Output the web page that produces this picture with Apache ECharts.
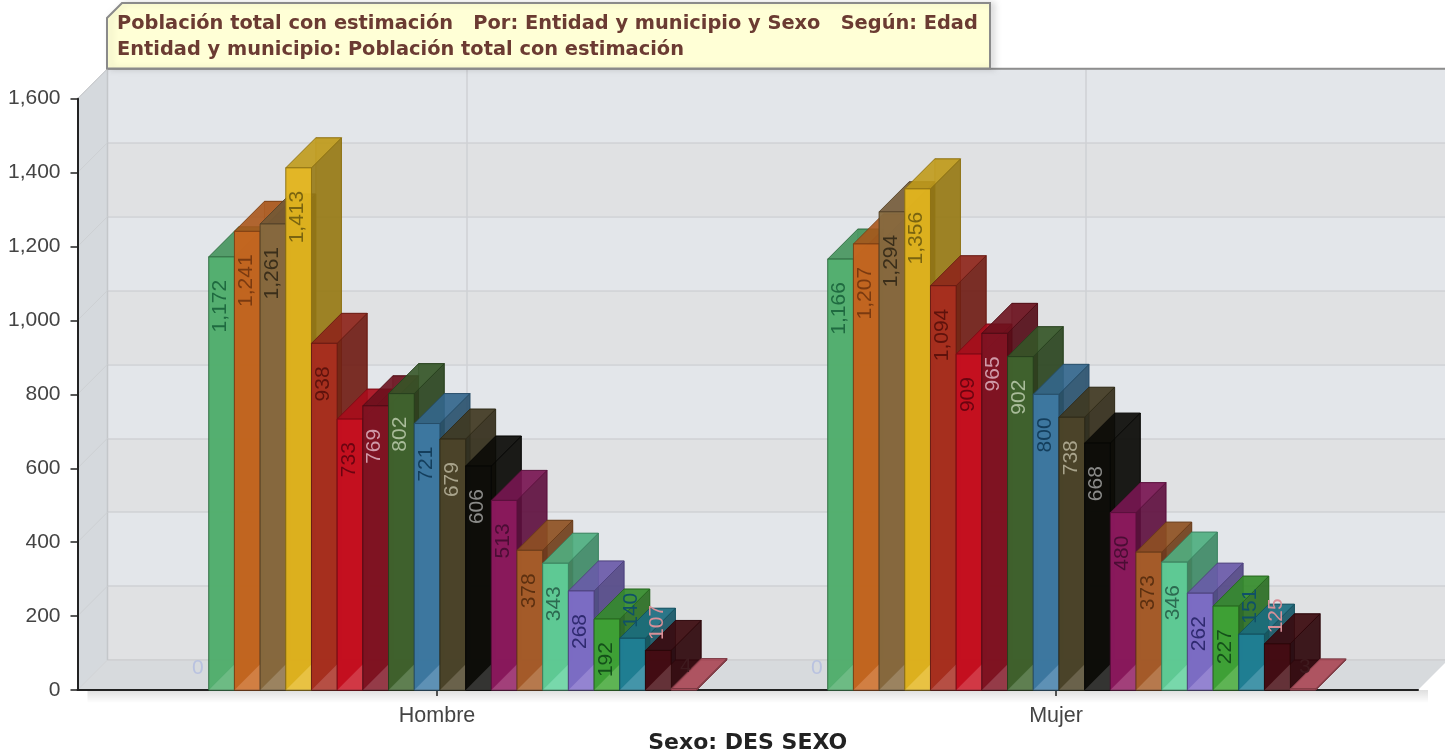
<!DOCTYPE html>
<html>
<head>
<meta charset="utf-8">
<style>
html,body{margin:0;padding:0;background:#fff;overflow:hidden}
#c{width:1445px;height:753px;filter:blur(0.55px)}
</style>
<script src="https://cdn.jsdelivr.net/npm/echarts@6/dist/echarts.min.js"></script>
</head>
<body>
<div id="c"></div>
<script>
const categories = ['Hombre', 'Mujer'];
const titleLines = [
  'Población total con estimación   Por: Entidad y municipio y Sexo   Según: Edad',
  'Entidad y municipio: Población total con estimación'
];
const xAxisTitle = 'Sexo: DES SEXO';
const yTicks = [0, 200, 400, 600, 800, 1000, 1200, 1400, 1600];
const hombre = [0, 1172, 1241, 1261, 1413, 938, 733, 769, 802, 721, 679, 606, 513, 378, 343, 268, 192, 140, 107, 4];
const mujer  = [0, 1166, 1207, 1294, 1356, 1094, 909, 965, 902, 800, 738, 668, 480, 373, 346, 262, 227, 151, 125, 3];
const barColors = ['#9aa6d8', '#4fae6b', '#c9651e', '#876a40', '#e3b61e', '#a82c1f', '#c90f20', '#7f1322', '#3f652e', '#3e7aa6',
  '#4c4326', '#0c0c08', '#8f1a60', '#a85f28', '#5ed09a', '#7e6bc9', '#3ea532', '#1f8098', '#45090f', '#c55a6a'];
const labelColors = ['#b9c2e0', '#1f6a40', '#7a3a10', '#3a2e1a', '#7a6410', '#5e120c', '#6a0410', '#d09aa8', '#a9bc9a', '#143e5c',
  '#a9a48c', '#8a8a88', '#4a0d34', '#5c3010', '#2c6a50', '#2f2a70', '#14501a', '#0f5068', '#d89098', '#3e1a1e'];

const DEPTH = 30;
const FRONT = {left: 77.5, top: 98.7, width: 1340.5, height: 591.3};
const X_MIN = -0.5808, X_MAX = 1.5848;
const GROUP_START = -0.4103, SLOT = 0.0415;
const FONT = '"Liberation Sans", Arial, sans-serif';

function shade(hex, f) {
  const n = parseInt(hex.slice(1), 16);
  const c = [(n >> 16) & 255, (n >> 8) & 255, n & 255].map(v => Math.round(f > 1 ? v + (255 - v) * (f - 1) : v * f));
  return 'rgb(' + c.join(',') + ')';
}
function poly(points, fill, opacity, stroke) {
  return {type: 'polygon', shape: {points}, style: {fill, opacity, stroke, lineWidth: 1}};
}
function barRenderer(i) {
  const col = barColors[i];
  return function (params, api) {
    const cat = api.value(0), v = api.value(1);
    const xl = cat + GROUP_START + i * SLOT;
    const [x0, y0] = api.coord([xl, 0]);
    const [x1, y1] = api.coord([xl + SLOT, v]);
    const d = DEPTH;
    const stroke = shade(col, 0.62);
    const children = [];
    if (v > 0) {
      children.push(poly([[x0, y0], [x1, y0], [x1 + d, y0 - d], [x0 + d, y0 - d]], shade(col, 1.05), 0.8, stroke));
      children.push(poly([[x0 + d, y0 - d], [x1 + d, y0 - d], [x1 + d, y1 - d], [x0 + d, y1 - d]], shade(col, 0.6), 0.45, stroke));
      children.push(poly([[x0, y0], [x0 + d, y0 - d], [x0 + d, y1 - d], [x0, y1]], shade(col, 0.5), 0.28, null));
      children.push(poly([[x1, y0], [x1 + d, y0 - d], [x1 + d, y1 - d], [x1, y1]], shade(col, 0.67), 0.85, stroke));
      children.push(poly([[x0, y1], [x1, y1], [x1 + d, y1 - d], [x0 + d, y1 - d]], shade(col, 0.86), 0.85, stroke));
      children.push(poly([[x0, y0], [x1, y0], [x1, y1], [x0, y1]], col, 0.94, stroke));
      const h = Math.min(x1 - x0, y0 - y1);
      if (h > 3) {
        children.push({type: 'polygon', shape: {points: [[x0, y0], [x1, y0], [x1, y0 - h]]},
          style: {fill: 'rgba(255,255,255,0.16)'}});
      }
    }
    const height = y0 - y1;
    const fits = height > 58;
    const single = v < 10;
    const text = v.toLocaleString('en-US');
    children.push({
      type: 'text',
      x: (x0 + x1) / 2 + (single ? 2 : -1),
      y: fits ? y1 + 23 : y1 - (single ? 22 : 28),
      rotation: single ? 0 : Math.PI / 2,
      style: {
        text,
        fill: labelColors[i],
        font: '21px ' + FONT,
        align: fits ? 'right' : 'center',
        verticalAlign: 'middle'
      },
      z2: 20
    });
    return {type: 'group', children};
  };
}

const wallSeries = {
  type: 'custom',
  coordinateSystem: 'cartesian2d',
  silent: true,
  clip: false,
  z: 1,
  data: yTicks.map(v => [X_MIN, v]),
  renderItem(params, api) {
    const [x, y] = api.coord([api.value(0), api.value(1)]);
    const d = DEPTH;
    const children = [];
    if (params.dataIndex === 0) {
      const [xEnd] = api.coord([X_MAX, 0]);
      const [, yTop] = api.coord([0, yTicks[yTicks.length - 1]]);
      children.push({type: 'rect', shape: {x: x + 10, y, width: xEnd - x, height: 13},
        style: {fill: {type: 'linear', x: 0, y: 0, x2: 0, y2: 1,
          colorStops: [{offset: 0, color: 'rgba(0,0,0,0.13)'}, {offset: 1, color: 'rgba(0,0,0,0)'}]}}});
      children.push(poly([[x, y], [x + d, y - d], [x + d, yTop - d], [x, yTop]], '#d5d9dd', 1, null));
      children.push(poly([[x, y], [xEnd, y], [xEnd + d, y - d], [x + d, y - d]], '#d7dadd', 1, null));
      children.push({type: 'line', shape: {x1: x + d, y1: y - d, x2: xEnd + d, y2: y - d}, style: {stroke: '#cfcfd2', lineWidth: 1.5}});
      children.push({type: 'line', shape: {x1: x + d, y1: y - d, x2: x + d, y2: yTop - d}, style: {stroke: '#c4c7ca', lineWidth: 1.5}});
      children.push({type: 'line', shape: {x1: x + d, y1: yTop - d, x2: xEnd + d, y2: yTop - d}, style: {stroke: '#8e8e8e', lineWidth: 2}});
      children.push({type: 'line', shape: {x1: x, y1: yTop, x2: x + d, y2: yTop - d}, style: {stroke: '#b8b8b8', lineWidth: 1}});
    }
    children.push({type: 'line', shape: {x1: x, y1: y, x2: x + d, y2: y - d}, style: {stroke: '#cdd0d3', lineWidth: 1}});
    return {type: 'group', children};
  }
};

const barSeries = hombre.map((h, i) => ({
  type: 'custom',
  coordinateSystem: 'cartesian2d',
  clip: false,
  silent: true,
  z: 4,
  data: [[0, h], [1, mujer[i]]],
  renderItem: barRenderer(i)
}));

const chart = echarts.init(document.getElementById('c'), null, {renderer: 'canvas'});
chart.setOption({
  animation: false,
  backgroundColor: '#ffffff',
  title: {
    text: titleLines.join('\n'),
    left: 112, top: 6,
    z: 8,
    textStyle: {fontFamily: '"DejaVu Sans", sans-serif', fontWeight: 'bold', fontSize: 19.4, lineHeight: 26, color: '#6b3b32'}
  },
  graphic: [{
    type: 'polygon', z: 6, silent: true,
    shape: {points: [[107, 18], [122, 3], [990, 3], [990, 68.5], [107, 68.5]]},
    style: {fill: '#ffffd6', stroke: '#8a8a8a', lineWidth: 2, shadowBlur: 6, shadowOffsetX: 4, shadowColor: 'rgba(0,0,0,0.12)'}
  }],
  grid: [
    {left: FRONT.left, top: FRONT.top, width: FRONT.width, height: FRONT.height, outerBoundsMode: 'none'},
    {left: FRONT.left + DEPTH, top: FRONT.top - DEPTH, width: FRONT.width, height: FRONT.height, outerBoundsMode: 'none'}
  ],
  xAxis: [{
    gridIndex: 0, type: 'value', min: X_MIN, max: X_MAX, z: 3,
    name: xAxisTitle, nameLocation: 'middle', nameGap: 37,
    nameTextStyle: {fontFamily: '"DejaVu Sans", sans-serif', fontWeight: 'bold', fontSize: 22, color: '#222'},
    axisLine: {show: true, onZero: false, lineStyle: {color: '#222', width: 2}},
    axisTick: {show: true, length: 6, customValues: [0, 1], lineStyle: {color: '#222', width: 1.5}},
    axisLabel: {show: true, customValues: [0, 1], margin: 15, fontFamily: FONT, fontSize: 21.5, color: '#444',
      formatter: v => categories[v]},
    splitLine: {show: false}
  }, {
    gridIndex: 1, type: 'value', min: X_MIN, max: X_MAX, z: 0,
    axisLine: {show: false, onZero: false},
    axisTick: {show: false, customValues: [0, 1]},
    axisLabel: {show: false, customValues: [0, 1]},
    splitLine: {show: true, lineStyle: {color: '#cfd1d4', width: 1.5}}
  }],
  yAxis: [{
    gridIndex: 0, type: 'value', min: 0, max: 1600, interval: 200, z: 3,
    axisLine: {show: true, onZero: false, lineStyle: {color: '#222', width: 2}},
    axisTick: {show: true, length: 7, lineStyle: {color: '#222', width: 1.5}},
    axisLabel: {margin: 17, fontFamily: FONT, fontSize: 21, color: '#444', formatter: v => v.toLocaleString('en-US')},
    splitLine: {show: false}
  }, {
    gridIndex: 1, type: 'value', min: 0, max: 1600, interval: 200, z: 0,
    axisLine: {show: false, onZero: false},
    axisTick: {show: false},
    axisLabel: {show: false},
    splitLine: {show: true, lineStyle: {color: '#cfd1d4', width: 1.5}},
    splitArea: {show: true, areaStyle: {color: ['#e0e1e3', '#e3e6ea']}}
  }],
  series: [wallSeries].concat(barSeries)
});
</script>
</body>
</html>
